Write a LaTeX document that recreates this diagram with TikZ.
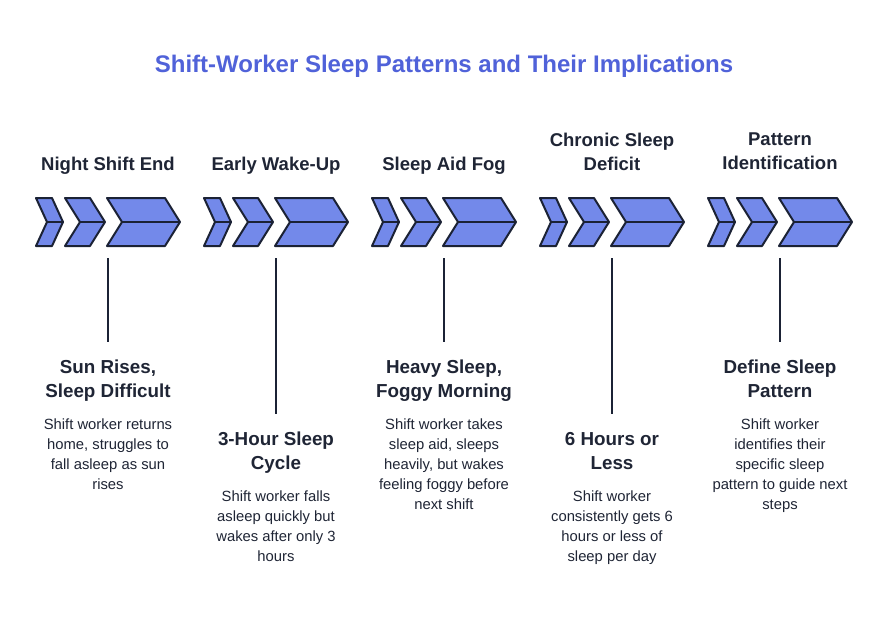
\documentclass[tikz,border=0pt]{standalone}
\usepackage{fontspec}
\setmainfont{Liberation Sans}
\definecolor{chevfill}{RGB}{115,137,234}
\definecolor{chevline}{RGB}{27,34,53}
\definecolor{txtdark}{RGB}{31,37,53}
\definecolor{titleblue}{RGB}{80,98,217}
\newcommand\chevgroup[2]{%
  \begin{scope}[xshift=#1pt]
    \foreach \l/\r/\s in {0/16/11, 29/54/15, 71/129/15}{
      \filldraw[chevstyle] (\l,198) -- (\r,198) -- (\r+\s,222) -- (\r,246) -- (\l,246) -- (\l+\s,222) -- cycle;
      \draw[chevstyle] (\l+\s,222) -- (\r+\s,222);
    }
    \coordinate (#2) at (72,258);
  \end{scope}}
\begin{document}
\begin{tikzpicture}[x=1pt,y=-1pt,
  chevstyle/.style={fill=chevfill,draw=chevline,line width=2pt,line join=round},
  stemline/.style={draw=chevline,line width=1.8pt},
  toplabel/.style={anchor=north,inner sep=0pt,align=center,text=txtdark,font=\fontsize{18.5}{24}\selectfont\bfseries},
  headlabel/.style={anchor=north,inner sep=0pt,align=center,text=txtdark,font=\fontsize{18.8}{24}\selectfont\bfseries},
  desclabel/.style={anchor=north,inner sep=0pt,align=center,text=txtdark,font=\fontsize{14.8}{20}\selectfont}]
\useasboundingbox[fill=white] (0,0) rectangle (888,638);
\node[anchor=north,inner sep=0pt,text=titleblue,font=\fontsize{24}{28}\selectfont\bfseries] (title) at (444,55) {Shift-Worker Sleep Patterns and Their Implications};
% top labels
\node[toplabel] (t1) at (108,157) {Night Shift End};
\node[toplabel] (t2) at (276,157) {Early Wake-Up};
\node[toplabel] (t3) at (444,157) {Sleep Aid Fog};
\node[toplabel] (t4) at (612,133) {Chronic Sleep\\Deficit};
\node[toplabel] (t5) at (780,133) {Pattern\\Identification};
% chevrons
\chevgroup{36}{c1}
\chevgroup{204}{c2}
\chevgroup{372}{c3}
\chevgroup{540}{c4}
\chevgroup{708}{c5}
% headings
\node[headlabel] (h1) at (108,360) {Sun Rises,\\Sleep Difficult};
\node[headlabel] (h2) at (276,432) {3-Hour Sleep\\Cycle};
\node[headlabel] (h3) at (444,360) {Heavy Sleep,\\Foggy Morning};
\node[headlabel] (h4) at (612,432) {6 Hours or\\Less};
\node[headlabel] (h5) at (780,360) {Define Sleep\\Pattern};
% descriptions
\node[desclabel] (d1) at (108,419) {Shift worker returns\\home, struggles to\\fall asleep as sun\\rises};
\node[desclabel] (d2) at (276,491) {Shift worker falls\\asleep quickly but\\wakes after only 3\\hours};
\node[desclabel] (d3) at (444,419) {Shift worker takes\\sleep aid, sleeps\\heavily, but wakes\\feeling foggy before\\next shift};
\node[desclabel] (d4) at (612,491) {Shift worker\\consistently gets 6\\hours or less of\\sleep per day};
\node[desclabel] (d5) at (780,419) {Shift worker\\identifies their\\specific sleep\\pattern to guide next\\steps};
% stems
\foreach \i in {1,...,5}{
  \draw[stemline] (c\i) -- ([yshift=18pt]h\i.north);
}
\end{tikzpicture}
\end{document}
